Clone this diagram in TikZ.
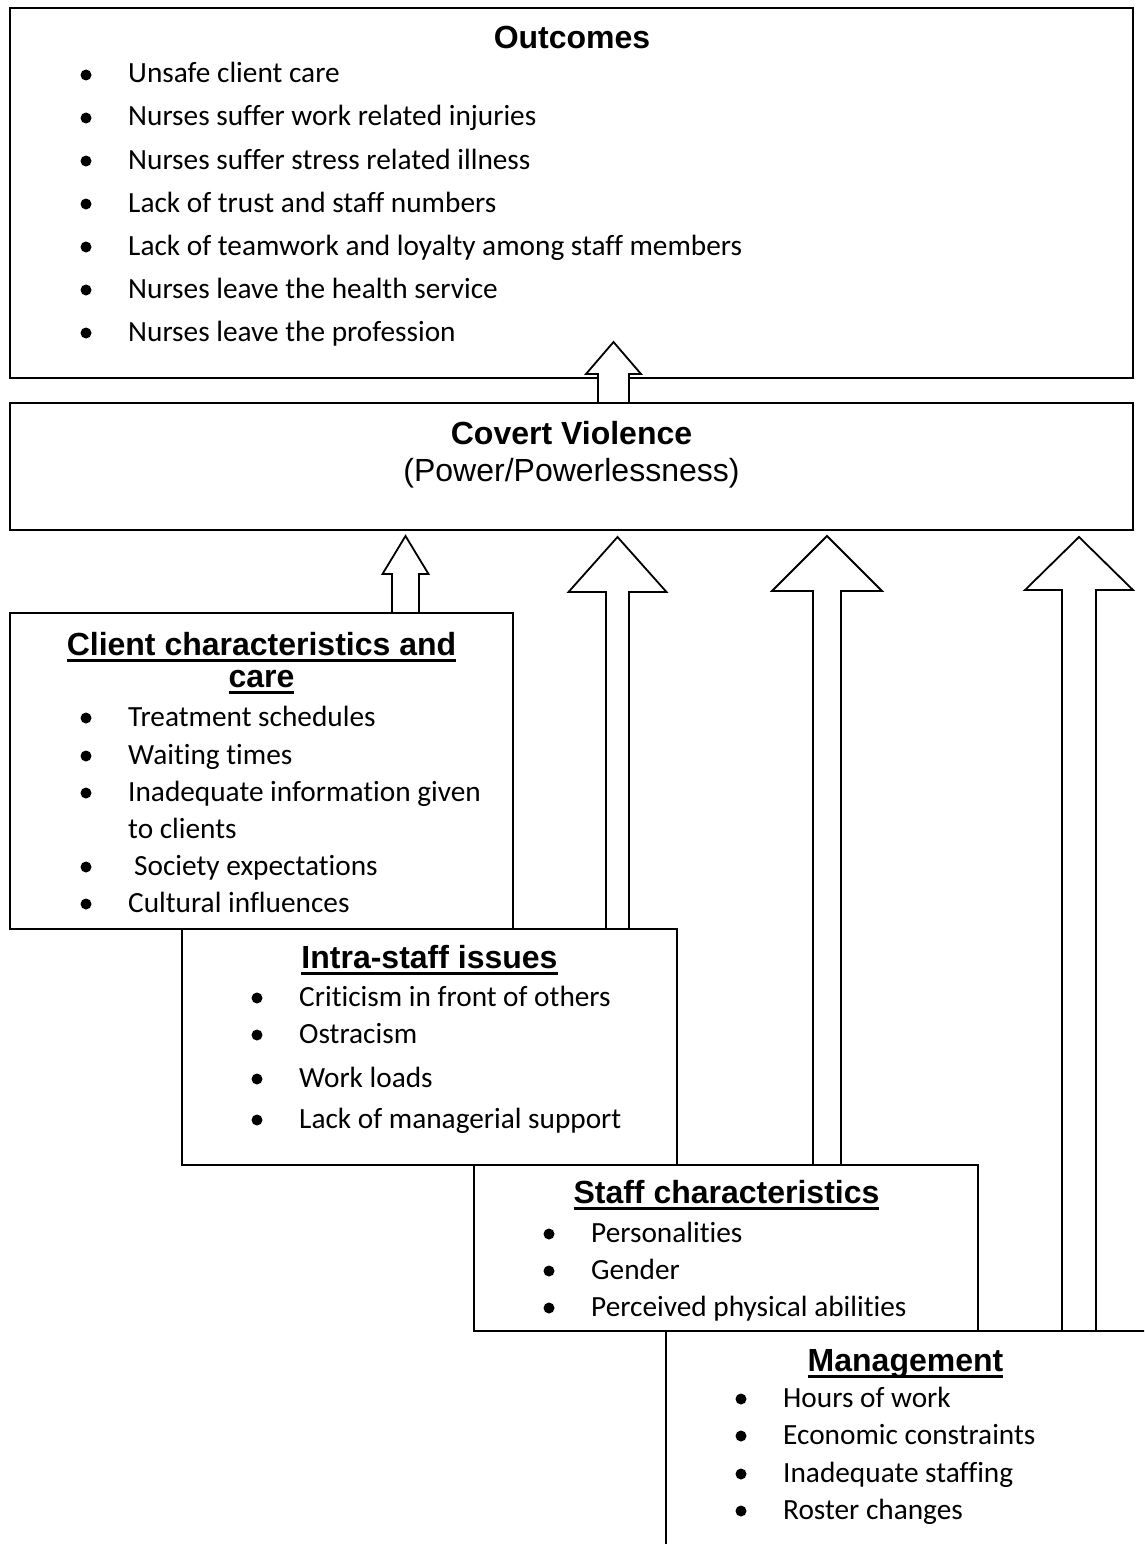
\documentclass[tikz,border=0pt]{standalone}
\usepackage{fontspec}
\setmainfont{Carlito}[Ligatures=NoCommon]
\newfontfamily\headfont{Liberation Sans}
\usetikzlibrary{calc}
\newcommand\hdul[1]{\setbox0\hbox{#1}\rlap{\rule[-6.5pt]{\wd0}{2.5pt}}\box0}
\tikzset{
  box/.style={draw, line width=1.8pt, inner sep=0pt, outer sep=0pt, anchor=north west},
  itemtxt/.style={anchor=base west, inner sep=0pt, font=\fontsize{29.3}{35}\selectfont},
  bul/.style={circle, fill, inner sep=0pt, minimum size=11pt},
  head/.style={anchor=base, inner sep=0pt, font=\headfont\bfseries\fontsize{32}{36}\selectfont},
  subhead/.style={anchor=base, inner sep=0pt, font=\headfont\fontsize{32}{36}\selectfont},
  blockarrow/.style={draw, fill=white, line width=1.8pt, line join=miter},
}
% #1 name, #2 bullet x, #3 text x, #4 baseline, #5 text
\newcommand\bitem[5]{%
  \node[bul] (#1b) at (#2,#4-8) {};
  \node[itemtxt] (#1) at (#3,#4) {#5};}
\begin{document}
\begin{tikzpicture}[x=1pt,y=-1pt]
\useasboundingbox (0,0) rectangle (1144,1544);
\clip (0,0) rectangle (1144,1544);
\fill[white] (0,0) rectangle (1144,1544);

% boxes
\node[box, minimum width=1123pt, minimum height=370pt] (outcomes) at (10,8) {};
\node[box, minimum width=1123pt, minimum height=127pt] (covert) at (10,403) {};
\node[box, minimum width=503pt, minimum height=316pt] (client) at (10,613) {};
\node[box, minimum width=495pt, minimum height=236pt] (intra) at (182,929) {};
\node[box, minimum width=504pt, minimum height=166pt] (staff) at (474,1165) {};
\node[box, minimum width=600pt, minimum height=300pt] (mgmt) at (666,1331) {};

% block arrows
\draw[blockarrow] (598,0 |- covert.north) -- (598,374) -- (586,374) -- (613.5,342) -- (641,374) -- (629,374) -- (629,0 |- covert.north) -- cycle;
\draw[blockarrow] (392,0 |- client.north) -- (392,574) -- (382.5,574) -- (405.5,536) -- (428.5,574) -- (419,574) -- (419,0 |- client.north) -- cycle;
\draw[blockarrow] (606,0 |- intra.north) -- (606,592) -- (568.5,592) -- (617.5,537) -- (666.5,592) -- (629,592) -- (629,0 |- intra.north) -- cycle;
\draw[blockarrow] (813,0 |- staff.north) -- (813,591) -- (772,591) -- (827,536) -- (882,591) -- (841,591) -- (841,0 |- staff.north) -- cycle;
\draw[blockarrow] (1062,0 |- mgmt.north) -- (1062,590) -- (1025,590) -- (1079,537) -- (1133,590) -- (1096,590) -- (1096,0 |- mgmt.north) -- cycle;

% Outcomes
\node[head] (outh) at (572,49) {Outcomes};
\bitem{o1}{86}{128}{83}{Unsafe client care}
\bitem{o2}{86}{128}{126}{Nurses suffer work related injuries}
\bitem{o3}{86}{128}{169}{Nurses suffer stress related illness}
\bitem{o4}{86}{128}{212}{Lack of trust and staff numbers}
\bitem{o5}{86}{128}{255}{Lack of teamwork and loyalty among staff members}
\bitem{o6}{86}{128}{298}{Nurses leave the health service}
\bitem{o7}{86}{128}{341}{Nurses leave the profession}

% Covert
\node[head] (covh) at (571.5,444) {Covert Violence};
\node[subhead] (covs) at (571.5,481) {(Power/Powerlessness)};

% Client
\node[head] (clh1) at (261.5,655) {\hdul{Client characteristics and}};
\node[head] (clh2) at (261.5,687) {\hdul{care}};
\bitem{c1}{86}{128}{726}{Treatment schedules}
\bitem{c2}{86}{128}{764}{Waiting times}
\bitem{c3}{86}{128}{801}{Inadequate information given}
\node[itemtxt] (c3b2) at (128,838) {to clients};
\bitem{c4}{86}{134}{875}{Society expectations}
\bitem{c5}{86}{128}{912}{Cultural influences}

% Intra
\node[head] (inh) at (429.5,968) {\hdul{Intra-staff issues}};
\bitem{i1}{257}{299}{1006}{Criticism in front of others}
\bitem{i2}{257}{299}{1043}{Ostracism}
\bitem{i3}{257}{299}{1087}{Work loads}
\bitem{i4}{257}{299}{1128}{Lack of managerial support}

% Staff
\node[head] (sth) at (726.5,1203) {\hdul{Staff characteristics}};
\bitem{s1}{549}{591}{1242}{Personalities}
\bitem{s2}{549}{591}{1279}{Gender}
\bitem{s3}{549}{591}{1316}{Perceived physical abilities}

% Management
\node[head] (mgh) at (905.5,1371) {\hdul{Management}};
\bitem{m1}{741}{783}{1407}{Hours of work}
\bitem{m2}{741}{783}{1444}{Economic constraints}
\bitem{m3}{741}{783}{1482}{Inadequate staffing}
\bitem{m4}{741}{783}{1519}{Roster changes}
\end{tikzpicture}
\end{document}
